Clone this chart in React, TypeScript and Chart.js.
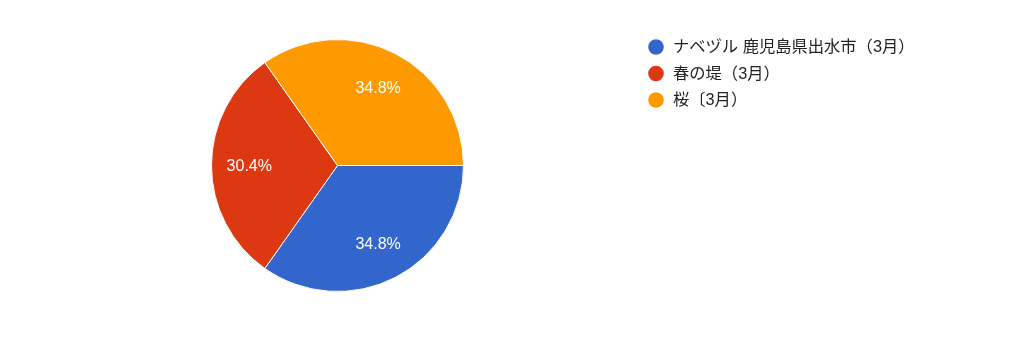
import React, { useEffect, useRef } from "react";
import { Chart, registerables } from "chart.js";

Chart.register(...registerables);

const categories = ["ナベヅル 鹿児島県出水市（3月）", "春の堤（3月）", "桜〔3月）"];
const values = [8, 7, 8];
const colors = ["#3366cc", "#dc3912", "#ff9900"];

const FONT = "Arial, 'Liberation Sans', 'Noto Sans CJK JP', sans-serif";

const customDraw = {
  id: "customDraw",
  afterDatasetsDraw(chart: any) {
    const ctx = chart.ctx;
    const meta = chart.getDatasetMeta(0);
    const data = chart.data.datasets[0].data as number[];
    const total = data.reduce((a, b) => a + b, 0);
    ctx.save();
    ctx.font = `16px ${FONT}`;
    ctx.fillStyle = "#ffffff";
    ctx.textAlign = "center";
    ctx.textBaseline = "middle";
    meta.data.forEach((arc: any, i: number) => {
      const p = arc.getProps(["x", "y", "startAngle", "endAngle", "outerRadius"], true);
      const mid = (p.startAngle + p.endAngle) / 2;
      const r = p.outerRadius * 0.7;
      const pct = ((data[i] / total) * 100).toFixed(1) + "%";
      ctx.fillText(pct, p.x + Math.cos(mid) * r, p.y + Math.sin(mid) * r + 1);
    });
    // legend
    const lx = 656;
    const ly0 = 47;
    const step = 26.5;
    chart.data.labels.forEach((lab: string, i: number) => {
      const y = ly0 + i * step;
      ctx.beginPath();
      ctx.fillStyle = colors[i];
      ctx.arc(lx, y, 7.8, 0, Math.PI * 2);
      ctx.fill();
      ctx.fillStyle = "#222222";
      ctx.textAlign = "left";
      ctx.textBaseline = "middle";
      ctx.font = `16.3px ${FONT}`;
      ctx.fillText(lab, 673, y + 1);
    });
    ctx.restore();
  },
};

export default function App() {
  const ref = useRef<HTMLCanvasElement | null>(null);
  useEffect(() => {
    if (!ref.current) return;
    const chart = new Chart(ref.current, {
      type: "pie",
      data: {
        labels: categories,
        datasets: [
          {
            data: values,
            backgroundColor: colors,
            borderColor: "#ffffff",
            borderWidth: 1,
          },
        ],
      },
      options: {
        responsive: false,
        animation: false,
        rotation: 90,
        layout: { padding: { left: 211, top: 39, right: 560, bottom: 46 } },
        plugins: {
          legend: { display: false },
          tooltip: { enabled: false },
        },
      },
      plugins: [customDraw],
    });
    return () => chart.destroy();
  }, []);
  return (
    <div style={{ position: "fixed", left: 0, top: 0, width: 1024, height: 338, background: "#fff" }}>
      <canvas ref={ref} width={1024} height={338} style={{ display: "block" }} />
    </div>
  );
}
